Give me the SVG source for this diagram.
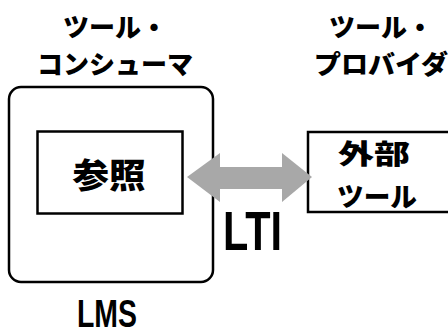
<svg xmlns="http://www.w3.org/2000/svg" width="448" height="336" viewBox="0 0 448 336">
<style>
.box{fill:#fff;stroke:#000;stroke-width:2.5}
.jp{font-family:"Noto Sans CJK JP","Noto Sans",sans-serif;font-weight:900;fill:#000;text-anchor:middle;dominant-baseline:central}
.lat{font-family:"Liberation Sans",Arial,sans-serif;font-weight:700;fill:#000}
.arrow{fill:#a8a8a8}
</style>
<rect width="448" height="336" fill="#fff"/>
<g id="lms">
<rect class="box" x="9" y="87" width="204" height="195" rx="12" ry="12"/>
<text class="lat" x="77" y="327" font-size="38" textLength="60" lengthAdjust="spacingAndGlyphs">LMS</text>
</g>
<g id="consumer-label">
<text class="jp" x="115" y="25" font-size="26">ツール・</text>
<text class="jp" x="115" y="62" font-size="26" textLength="156" lengthAdjust="spacingAndGlyphs">コンシューマ</text>
</g>
<g id="provider-label">
<text class="jp" x="381" y="25" font-size="26">ツール・</text>
<text class="jp" x="381" y="62" font-size="26" textLength="134" lengthAdjust="spacingAndGlyphs">プロバイダ</text>
</g>
<g id="ref">
<rect class="box" x="37.5" y="131.5" width="145" height="82"/>
<text class="jp" x="109" y="173.5" font-size="34" textLength="73" lengthAdjust="spacingAndGlyphs">参照</text>
</g>
<g id="external-tool">
<rect class="box" x="308" y="132" width="160" height="80"/>
<text class="jp" x="374" y="152.5" font-size="27" textLength="72" lengthAdjust="spacingAndGlyphs">外部</text>
<text class="jp" x="377" y="195" font-size="27" textLength="80" lengthAdjust="spacingAndGlyphs">ツール</text>
</g>
<g id="connectors">
<polygon class="arrow" points="187,177 220,153 220,167 282,167 282,153 312,177 282,202 282,189 220,189 220,202"/>
<text class="lat" x="223" y="250" font-size="56" textLength="59" lengthAdjust="spacingAndGlyphs">LTI</text>
</g>
</svg>
